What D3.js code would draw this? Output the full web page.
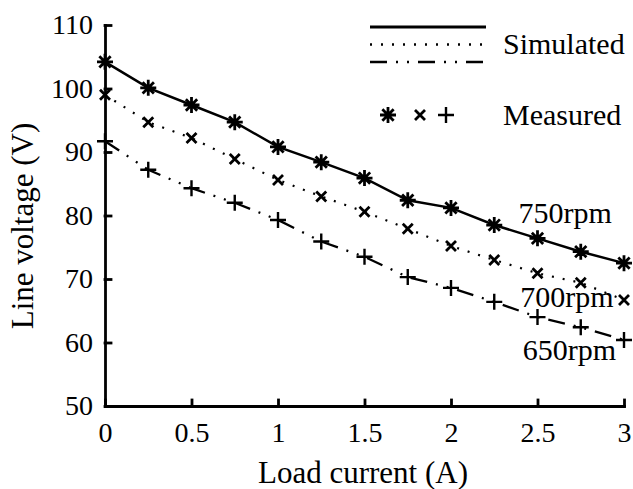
<!DOCTYPE html>
<html>
<head>
<script src="https://cdn.jsdelivr.net/npm/d3@7"></script>
<style>
  body { margin: 0; background: #fff; }
  svg { font-family: "Liberation Serif", "Times New Roman", serif; }
</style>
</head>
<body>
<svg id="chart" width="633" height="489"></svg>
<script>
// load current (A)
var current = [0, 0.25, 0.5, 0.75, 1, 1.25, 1.5, 1.75, 2, 2.25, 2.5, 2.75, 3];
// line voltage (V)
var v750 = [104.2, 100.1, 97.4, 94.7, 90.8, 88.4, 85.9, 82.4, 81.2, 78.5, 76.4, 74.3, 72.5];
var v700 = [99.0, 94.7, 92.2, 88.9, 85.6, 83.0, 80.6, 77.9, 75.2, 73.0, 70.9, 69.4, 66.7];
var v650 = [91.7, 87.2, 84.3, 82.0, 79.3, 75.9, 73.5, 70.3, 68.6, 66.4, 64.0, 62.4, 60.4];
var xTicks = [0, 0.5, 1, 1.5, 2, 2.5, 3];
var yTicks = [50, 60, 70, 80, 90, 100, 110];
var speedLabels = ["750rpm", "700rpm", "650rpm"];
var legendLabels = ["Simulated", "Measured"];

var svg = d3.select("#chart");
var x = d3.scaleLinear().domain([0, 3]).range([105, 624]);
var y = d3.scaleLinear().domain([50, 110]).range([406, 25]);

// axes, ticks pointing inward
var xAxis = svg.append("g")
   .attr("transform", "translate(0,406)")
   .call(d3.axisBottom(x).tickValues(xTicks).tickFormat(function (d) { return d; })
      .tickSizeInner(-6).tickSizeOuter(0));
xAxis.selectAll("text").attr("y", 0).attr("dy", 36).attr("font-size", 28);

var yAxis = svg.append("g")
   .attr("transform", "translate(105,0)")
   .call(d3.axisLeft(y).tickValues(yTicks).tickSizeInner(-6).tickSizeOuter(0));
yAxis.selectAll("text").attr("x", -12).attr("font-size", 28);

svg.selectAll(".domain, .tick line")
   .attr("stroke", "#000").attr("stroke-width", 2.8).attr("stroke-linecap", "square");
svg.selectAll(".tick text").attr("fill", "#000").attr("font-family", "Liberation Serif");

svg.append("text")
   .attr("x", 363).attr("y", 483)
   .attr("text-anchor", "middle").attr("font-size", 31)
   .text("Load current (A)");
svg.append("text")
   .attr("transform", "translate(33,226) rotate(-90)")
   .attr("text-anchor", "middle").attr("font-size", 31)
   .text("Line voltage (V)");

// simulated curves
var series = [
   { v: v750, dash: null, width: 2.5, marker: "star" },
   { v: v700, dash: "2,9", width: 2.2, marker: "times" },
   { v: v650, dash: "17,9,2,9,2,9", width: 2.3, marker: "plus" }
];
var line = d3.line()
   .x(function (d) { return x(d[0]); })
   .y(function (d) { return y(d[1]); });

series.forEach(function (s) {
   svg.append("path")
      .attr("d", line(d3.zip(current, s.v)))
      .attr("fill", "none")
      .attr("stroke", "#000")
      .attr("stroke-width", s.width)
      .attr("stroke-dasharray", s.dash);
});

// marker shapes
function markerPath(kind, cx, cy) {
   var p = d3.path(), r, a, i;
   if (kind === "star") {
      r = 8;
      for (i = 0; i < 4; i++) {
         a = i * Math.PI / 4;
         p.moveTo(cx - r * Math.cos(a), cy - r * Math.sin(a));
         p.lineTo(cx + r * Math.cos(a), cy + r * Math.sin(a));
      }
   } else if (kind === "times") {
      r = 5;
      p.moveTo(cx - r, cy - r); p.lineTo(cx + r, cy + r);
      p.moveTo(cx - r, cy + r); p.lineTo(cx + r, cy - r);
   } else {
      r = 8;
      p.moveTo(cx - r, cy); p.lineTo(cx + r, cy);
      p.moveTo(cx, cy - r); p.lineTo(cx, cy + r);
   }
   return p.toString();
}

series.forEach(function (s) {
   svg.append("g").selectAll("path")
      .data(d3.zip(current, s.v))
      .enter().append("path")
      .attr("d", function (d) { return markerPath(s.marker, x(d[0]), y(d[1])); })
      .attr("fill", "none")
      .attr("stroke", "#000")
      .attr("stroke-width", s.marker === "plus" ? 2.4 : 2.8);
});

// speed labels
var labelAt = [[2.39, 78.8], [2.40, 65.6], [2.415, 57.2]];
svg.append("g").selectAll("text")
   .data(speedLabels)
   .enter().append("text")
   .attr("x", function (d, i) { return x(labelAt[i][0]); })
   .attr("y", function (d, i) { return y(labelAt[i][1]); })
   .attr("font-size", 30)
   .text(function (d) { return d; });

// legend
var legend = svg.append("g");
series.forEach(function (s, i) {
   legend.append("line")
      .attr("x1", 370).attr("x2", 486)
      .attr("y1", 27 + i * 17.5).attr("y2", 27 + i * 17.5)
      .attr("stroke", "#000").attr("stroke-width", i === 0 ? 3 : 2.6)
      .attr("stroke-dasharray", s.dash);
   legend.append("path")
      .attr("d", markerPath(s.marker, [388, 420, 446][i], 115))
      .attr("fill", "none").attr("stroke", "#000")
      .attr("stroke-width", s.marker === "plus" ? 2.4 : 2.8);
});
legend.selectAll("text")
   .data(legendLabels)
   .enter().append("text")
   .attr("x", 503)
   .attr("y", function (d, i) { return [54, 125][i]; })
   .attr("font-size", 30)
   .text(function (d) { return d; });
</script>
</body>
</html>
